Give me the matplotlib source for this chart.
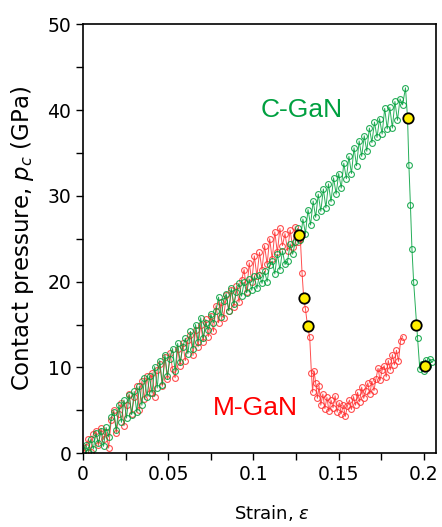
import matplotlib
matplotlib.use("Agg")
import matplotlib.pyplot as plt
from matplotlib.ticker import MultipleLocator

# C-GaN (green)
c_strain = [
    0.0, 0.0015, 0.003, 0.0045, 0.006, 0.0075, 0.009, 0.0105, 0.012, 0.0135,
    0.015, 0.0165, 0.018, 0.0195, 0.021, 0.0225, 0.024, 0.0255, 0.027, 0.0285,
    0.03, 0.0315, 0.033, 0.0345, 0.036, 0.0375, 0.039, 0.0405, 0.042, 0.0435,
    0.045, 0.0465, 0.048, 0.0495, 0.051, 0.0525, 0.054, 0.0555, 0.057, 0.0585,
    0.06, 0.0615, 0.063, 0.0645, 0.066, 0.0675, 0.069, 0.0705, 0.072, 0.0735,
    0.075, 0.0765, 0.078, 0.0795, 0.081, 0.0825, 0.084, 0.0855, 0.087, 0.0885,
    0.09, 0.0915, 0.093, 0.0945, 0.096, 0.0975, 0.099, 0.1005, 0.102, 0.1035,
    0.105, 0.1065, 0.108, 0.1095, 0.111, 0.1125, 0.114, 0.1155, 0.117, 0.1185,
    0.12, 0.1215, 0.123, 0.1245, 0.126, 0.1275, 0.129, 0.1305, 0.132, 0.1335,
    0.135, 0.1365, 0.138, 0.1395, 0.141, 0.1425, 0.144, 0.1455, 0.147, 0.1485,
    0.15, 0.1515, 0.153, 0.1545, 0.156, 0.1575, 0.159, 0.1605, 0.162, 0.1635,
    0.165, 0.1665, 0.168, 0.1695, 0.171, 0.1725, 0.174, 0.1755, 0.177, 0.1785,
    0.18, 0.1815, 0.183, 0.1845, 0.186, 0.1875,
    0.1892, 0.1904, 0.1912, 0.1921, 0.193, 0.194, 0.1957, 0.1963, 0.1976,
    0.199, 0.2, 0.201, 0.2025, 0.2035, 0.2047,
]
c_pressure = [
    0.3, 1.0, 0.2, 1.6, 0.5, 2.3, 1.2, 2.6, 0.8, 3.0,
    1.9, 4.2, 4.8, 2.7, 5.6, 3.6, 6.2, 4.1, 6.8, 4.5,
    7.2, 4.8, 7.8, 5.6, 8.8, 6.6, 9.0, 7.0, 10.1, 7.6,
    10.8, 8.0, 11.5, 9.0, 11.0, 12.2, 9.6, 12.8, 10.6, 12.4,
    13.4, 11.6, 14.2, 12.2, 15.0, 13.0, 15.8, 13.4, 15.2, 14.4,
    16.2, 15.2, 16.6, 18.2, 15.9, 17.8, 18.6, 16.6, 19.2, 17.4,
    18.8, 19.8, 18.3, 19.9, 18.7, 20.3, 19.0, 20.6, 19.2, 20.8,
    19.8, 21.2, 20.0, 21.9, 22.4, 20.9, 23.2, 21.4, 23.6, 22.0,
    22.4, 24.4, 23.2, 24.6, 26.2, 24.8, 27.3, 25.6, 28.4, 26.6,
    29.4, 27.5, 30.2, 28.2, 30.8, 28.6, 31.4, 29.3, 32.1, 30.2,
    32.6, 30.9, 33.8, 32.0, 34.6, 32.6, 35.6, 33.5, 36.4, 34.6,
    37.0, 35.2, 37.9, 36.2, 38.6, 36.8, 39.0, 37.2, 40.2, 37.8,
    40.3, 37.9, 41.0, 38.8, 41.3, 40.6,
    42.6, 39.1, 33.6, 28.9, 23.8, 19.9, 15.0, 13.4, 9.8,
    10.4, 9.6, 10.9, 10.2, 11.0, 10.6,
]

# M-GaN (red)
m_strain = [
    0.0, 0.0015, 0.003, 0.0045, 0.006, 0.0075, 0.009, 0.0105, 0.012, 0.0135,
    0.015, 0.0165, 0.018, 0.0195, 0.021, 0.0225, 0.024, 0.0255, 0.027, 0.0285,
    0.03, 0.0315, 0.033, 0.0345, 0.036, 0.0375, 0.039, 0.0405, 0.042, 0.0435,
    0.045, 0.0465, 0.048, 0.0495, 0.051, 0.0525, 0.054, 0.0555, 0.057, 0.0585,
    0.06, 0.0615, 0.063, 0.0645, 0.066, 0.0675, 0.069, 0.0705, 0.072, 0.0735,
    0.075, 0.0765, 0.078, 0.0795, 0.081, 0.0825, 0.084, 0.0855, 0.087, 0.0885,
    0.09, 0.0915, 0.093, 0.0945, 0.096, 0.0975, 0.099, 0.1005, 0.102, 0.1035,
    0.105, 0.1065, 0.108, 0.1095, 0.111, 0.1125, 0.114, 0.1155, 0.117, 0.1185,
    0.12, 0.1215, 0.123, 0.1245, 0.126, 0.1275,
    0.1285, 0.1295, 0.1305, 0.1318, 0.133, 0.134, 0.1347, 0.1355, 0.1365,
    0.1375, 0.1385,
    0.1395, 0.1407, 0.1419, 0.1431, 0.1443, 0.1455, 0.1467, 0.1479, 0.1491,
    0.1503, 0.1515, 0.1527, 0.1539, 0.1551, 0.1563, 0.1575, 0.1587, 0.1599,
    0.1611, 0.1623, 0.1635, 0.1647, 0.1659, 0.1671, 0.1683, 0.1695, 0.1707,
    0.1719, 0.1731, 0.1743, 0.1755, 0.1767, 0.1779, 0.1791, 0.1803, 0.1815,
    0.1827, 0.1839, 0.1851, 0.1863, 0.1875,
]
m_pressure = [
    0.0, 0.7, 1.6, 0.2, 2.2, 2.6, 0.9, 2.9, 1.6, 2.5,
    0.6, 3.9, 5.0, 2.4, 4.6, 5.9, 3.2, 5.6, 6.9, 4.6,
    6.5, 7.8, 5.0, 8.4, 6.3, 9.0, 7.0, 9.4, 6.6, 9.7,
    10.4, 7.8, 11.2, 8.6, 11.7, 9.8, 8.8, 12.2, 10.2, 12.8,
    10.8, 13.2, 13.8, 11.4, 14.4, 12.4, 15.0, 13.0, 15.6, 13.6,
    16.0, 14.2, 17.2, 15.2, 17.6, 15.8, 18.4, 16.6, 19.0, 17.0,
    19.5, 17.6, 20.2, 21.4, 18.8, 22.2, 20.0, 23.0, 20.6, 23.4,
    21.4, 24.2, 22.0, 25.0, 22.6, 25.8, 23.4, 26.2, 24.2, 25.6,
    23.6, 26.0, 24.0, 26.4, 24.6, 25.0,
    21.0, 18.0, 16.8, 14.7, 13.5, 9.3, 7.1, 9.6, 8.2,
    6.4, 7.8,
    5.6, 6.9, 5.2, 6.5, 4.9, 6.2, 5.3, 6.7, 4.8,
    5.9, 4.6, 5.6, 4.3, 5.5, 6.2, 5.1, 6.6, 5.6,
    7.1, 6.0, 7.7, 6.4, 7.3, 8.2, 6.9, 8.4, 7.3,
    8.7, 9.9, 8.5, 9.7, 10.2, 8.9, 10.8, 9.7, 11.5,
    10.3, 12.0, 10.7, 13.1, 13.6,
]

# highlighted points (yellow)
mark_strain = [0.127, 0.1294, 0.1318, 0.1906, 0.1952, 0.2008]
mark_pressure = [25.4, 18.1, 14.8, 39.1, 15.0, 10.2]

green = '#00a03c'
red = '#ff3030'

fig = plt.figure(figsize=(4.42, 5.27), dpi=100)
ax = fig.add_axes([0.188, 0.140, 0.798, 0.814])

ax.plot(m_strain, m_pressure, color=red, lw=0.7, marker='o', ms=4.2,
        mfc='none', mec=red, mew=0.8, alpha=0.85)
ax.plot(c_strain, c_pressure, color=green, lw=0.7, marker='o', ms=4.2,
        mfc='none', mec=green, mew=0.8, alpha=0.85)
ax.plot(mark_strain, mark_pressure, ls='none', marker='o', ms=7.5,
        mfc='#ffee00', mec='black', mew=1.3)

ax.text(0.1285, 40, 'C-GaN', color='#00a040', fontsize=19,
        family='Liberation Sans', ha='center', va='center')
ax.text(0.101, 5.3, 'M-GaN', color='#ff0000', fontsize=19,
        family='Liberation Sans', ha='center', va='center')

ax.set_xlim(0, 0.207)
ax.set_ylim(0, 50)
ax.xaxis.set_major_locator(MultipleLocator(0.05))
ax.xaxis.set_minor_locator(MultipleLocator(0.025))
ax.yaxis.set_major_locator(MultipleLocator(10))
ax.yaxis.set_minor_locator(MultipleLocator(5))
ax.set_xticklabels(['', '0', '0.05', '0.1', '0.15', '0.2'])
ax.tick_params(which='both', direction='out', length=5, width=1,
               top=False, right=False, labelsize=13.5)
for s in ax.spines.values():
    s.set_linewidth(1.2)

ax.set_xlabel('Strain, $\\varepsilon$', fontsize=13)
ax.xaxis.set_label_coords(0.535, -0.115)
ax.set_ylabel('Contact pressure, $p_c$ (GPa)', fontsize=16.5)
ax.yaxis.set_label_coords(-0.133, 0.5)

fig.savefig('out.png', dpi=100)
